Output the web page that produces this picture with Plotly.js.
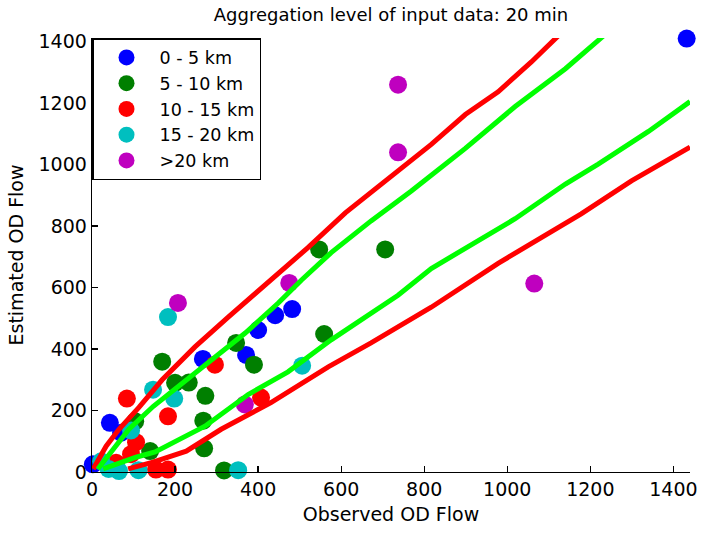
<!DOCTYPE html>
<html>
<head>
<meta charset="utf-8">
<script src="https://cdn.plot.ly/plotly-3.0.1.min.js"></script>
<style>html,body{margin:0;padding:0;background:#fff;}#chart{width:702px;height:534px;}</style>
</head>
<body>
<div id="chart"></div>
<script>
// Scatter data: observed vs estimated OD flow, grouped by distance class
const names = ["0 - 5 km", "5 - 10 km", "10 - 15 km", "15 - 20 km", ">20 km"];
const colors = ["#0000FF", "#007F00", "#FF0000", "#00BFBF", "#BF00BF"];

const blueX = [1432, 2, 43, 70, 267, 400, 441, 482, 371];
const blueY = [1410, 25, 160, 128, 368, 462, 510, 530, 381];

const greenX = [547, 706, 559, 169, 200, 233, 273, 268, 270, 390, 347, 318, 104, 140];
const greenY = [724, 724, 449, 359, 290, 291, 248, 167, 77, 349, 420, 5, 165, 68];

const redX = [296, 407, 84, 183, 106, 154, 183, 94, 58];
const redY = [349, 242, 239, 181, 97, 8, 8, 58, 30];

const cyanX = [183, 147, 198, 506, 352, 94, 22, 40, 65, 112];
const cyanY = [504, 268, 239, 346, 6, 135, 35, 10, 3, 6];

const magentaX = [737, 737, 475, 1065, 207, 368];
const magentaY = [1260, 1040, 615, 613, 550, 220];

// Bound curves
const redUpperX = [3, 34, 65, 113, 169, 248, 328, 429, 520, 610, 706, 817, 899, 978, 1058, 1122];
const redUpperY = [10, 84, 139, 210, 300, 407, 504, 624, 730, 843, 947, 1066, 1163, 1237, 1334, 1418];
const greenUpperX = [14, 51, 89, 147, 207, 287, 369, 448, 504, 576, 672, 769, 899, 1019, 1140, 1231];
const greenUpperY = [10, 74, 139, 213, 278, 365, 452, 549, 624, 714, 817, 914, 1053, 1189, 1312, 1418];
const greenLowerX = [27, 106, 152, 272, 376, 472, 576, 658, 737, 817, 899, 1019, 1140, 1219, 1340, 1440];
const greenLowerY = [10, 48, 65, 149, 252, 326, 430, 504, 575, 662, 727, 824, 937, 1002, 1108, 1205];
const redLowerX = [87, 147, 227, 311, 431, 569, 672, 817, 978, 1099, 1178, 1299, 1440];
const redLowerY = [10, 32, 68, 139, 226, 342, 420, 536, 679, 779, 840, 947, 1057];

const tickVals = [0, 200, 400, 600, 800, 1000, 1200, 1400];
const tickText = ["0", "200", "400", "600", "800", "1000", "1200", "1400"];

const FONT = "DejaVu Sans, Liberation Sans, Arial, sans-serif";

const groups = [[blueX, blueY], [greenX, greenY], [redX, redY], [cyanX, cyanY], [magentaX, magentaY]];
const traces = groups.map((g, i) => ({
  type: "scatter", mode: "markers", name: names[i],
  x: g[0], y: g[1],
  marker: {color: colors[i], size: 18, line: {width: 0}},
  cliponaxis: false
}));

function curve(x, y, c) {
  return {type: "scatter", mode: "lines", x: x, y: y, showlegend: false,
          line: {color: c, width: 5}, cliponaxis: true, hoverinfo: "skip"};
}
traces.push(curve(redUpperX, redUpperY, "#FF0000"));
traces.push(curve(greenUpperX, greenUpperY, "#00FF00"));
traces.push(curve(greenLowerX, greenLowerY, "#00FF00"));
traces.push(curve(redLowerX, redLowerY, "#FF0000"));

const layout = {
  width: 702, height: 534,
  margin: {l: 92, r: 12, t: 38, b: 62, pad: 0},
  paper_bgcolor: "#fff", plot_bgcolor: "#fff",
  font: {family: FONT, size: 19, color: "#000"},
  title: {text: "Aggregation level of input data: 20 min", font: {family: FONT, size: 18, color: "#000"},
          x: 0.557, xref: "container", xanchor: "center", y: 0.972, yref: "container", yanchor: "middle"},
  xaxis: {range: [0, 1440], tickvals: tickVals, ticktext: tickText, ticks: "inside", ticklen: 6,
          tickwidth: 1.3, tickcolor: "#000", showline: true, linecolor: "#000", linewidth: 1.3,
          showgrid: false, zeroline: false, mirror: false,
          title: {text: "Observed OD Flow", font: {family: FONT, size: 19}, standoff: 8}},
  yaxis: {range: [0, 1412], tickvals: tickVals, ticktext: tickText, ticks: "inside", ticklen: 6,
          tickwidth: 1.3, tickcolor: "#000", showline: true, linecolor: "#000", linewidth: 1.3,
          showgrid: false, zeroline: false, mirror: false,
          title: {text: "Estimated OD Flow", font: {family: FONT, size: 19}, standoff: 10}},
  legend: {x: 0, y: 1, xanchor: "left", yanchor: "top", bgcolor: "#fff", bordercolor: "#000",
           borderwidth: 1.5, itemwidth: 56, font: {family: FONT, size: 17.5}, tracegroupgap: 0},
  showlegend: true
};

Plotly.newPlot("chart", traces, layout, {staticPlot: true, displayModeBar: false});
</script>
</body>
</html>
